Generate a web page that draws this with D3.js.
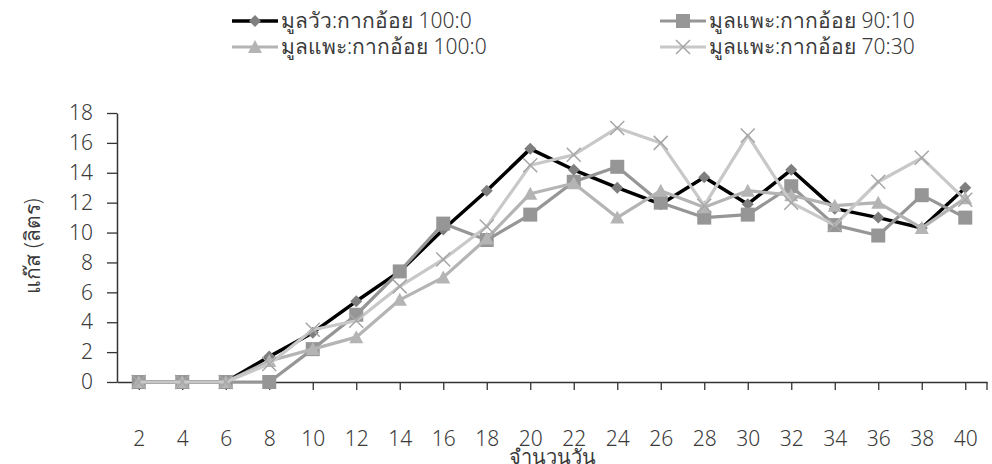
<!DOCTYPE html>
<html><head><meta charset="utf-8">
<script src="https://cdn.jsdelivr.net/npm/d3@7"></script>
<style>body{margin:0;background:#fff}svg{display:block}</style>
</head><body><svg id="c" width="992" height="464"></svg>
<script>
const days = [2,4,6,8,10,12,14,16,18,20,22,24,26,28,30,32,34,36,38,40];
const yTicks = [0,2,4,6,8,10,12,14,16,18];
const seriesNames = ["มูลวัว:กากอ้อย 100:0","มูลแพะ:กากอ้อย 90:10","มูลแพะ:กากอ้อย 100:0","มูลแพะ:กากอ้อย 70:30"];
const cow100 = [0,0,0,1.7,3.3,5.4,7.4,10.2,12.8,15.6,14.2,13.0,11.9,13.7,11.9,14.2,11.6,11.0,10.3,13.0];
const goat90 = [0,0,0,0,2.2,4.5,7.4,10.6,9.5,11.2,13.4,14.4,12.0,11.0,11.2,13.1,10.5,9.8,12.5,11.0];
const goat100 = [0,0,0,1.4,2.2,3.0,5.5,7.0,9.6,12.6,13.3,11.0,12.8,11.7,12.8,12.5,11.8,12.0,10.3,12.3];
const goat70 = [0,0,0,1.2,3.5,4.1,6.4,8.2,10.4,14.5,15.2,17.0,16.0,11.8,16.5,12.0,10.5,13.4,15.0,12.2];
const xTitle = "จำนวนวัน";
const yTitle = "แก๊ส (ลิตร)";

const styles = [
  {line:"#000000", fill:"#7f7f7f", shape:"diamond"},
  {line:"#969696", fill:"#969696", shape:"square"},
  {line:"#b4b4b4", fill:"#b4b4b4", shape:"triangle"},
  {line:"#c8c8c8", fill:"#a6a6a6", shape:"x"}
];
const allData = [cow100, goat90, goat100, goat70];

const svg = d3.select("#c");
const FONT = "'Noto Sans','Liberation Sans Narrow',sans-serif";
const TXT = "#3a3a3a";
const pL = 117, pR = 987, pT = 113, pB = 382;

const x = d3.scalePoint().domain(days).range([pL, pR]).padding(0.5);
const y = d3.scaleLinear().domain([0, 18]).range([pB, pT]);

const xAxis = svg.append("g").attr("transform", `translate(0,${pB})`)
  .call(d3.axisBottom(x).tickSize(8).tickSizeOuter(0).tickPadding(41));
xAxis.select(".domain").attr("stroke","#333").attr("stroke-width",1.5);
xAxis.selectAll(".tick line").attr("stroke","#333").attr("stroke-width",1.3);
xAxis.selectAll(".tick text").attr("font-family",FONT).attr("font-weight",300).attr("font-size",21).attr("fill",TXT);
svg.append("line").attr("x1",pR).attr("x2",pR).attr("y1",pB).attr("y2",pB+8)
  .attr("stroke","#333").attr("stroke-width",1.3);

const yAxis = svg.append("g").attr("transform", `translate(${pL},0)`)
  .call(d3.axisLeft(y).tickValues(yTicks).tickSize(10).tickSizeOuter(0).tickPadding(14));
yAxis.select(".domain").attr("stroke","#333").attr("stroke-width",1.5);
yAxis.selectAll(".tick line").attr("stroke","#333").attr("stroke-width",1.3);
yAxis.selectAll(".tick text").attr("font-family",FONT).attr("font-weight",300).attr("font-size",21).attr("fill",TXT);

svg.append("text").attr("x",(pL+pR)/2).attr("y",464).attr("text-anchor","middle")
  .attr("font-family",FONT).attr("font-weight",300).attr("font-size",20).attr("fill",TXT).text(xTitle);
svg.append("text").attr("transform",`translate(40,246) rotate(-90)`).attr("text-anchor","middle")
  .attr("font-family",FONT).attr("font-weight",300).attr("font-size",21).attr("fill",TXT).text(yTitle);

function marker(g, shape, cx, cy, st) {
  if (shape === "diamond") {
    g.append("path").attr("d",`M${cx},${cy-6}L${cx+6},${cy}L${cx},${cy+6}L${cx-6},${cy}Z`).attr("fill",st.fill);
  } else if (shape === "square") {
    g.append("rect").attr("x",cx-7).attr("y",cy-7).attr("width",14).attr("height",14).attr("fill",st.fill);
  } else if (shape === "triangle") {
    g.append("path").attr("d",`M${cx},${cy-7}L${cx+7},${cy+6}L${cx-7},${cy+6}Z`).attr("fill",st.fill);
  } else {
    g.append("path").attr("d",`M${cx-7},${cy-7}L${cx+7},${cy+7}M${cx+7},${cy-7}L${cx-7},${cy+7}`)
      .attr("stroke",st.fill).attr("stroke-width",1.5).attr("fill","none");
  }
}

const line = d3.line().x((d,i)=>x(days[i])).y(d=>y(d));
allData.forEach((data, si) => {
  const st = styles[si];
  const g = svg.append("g");
  g.append("path").datum(data).attr("d", line).attr("fill","none")
    .attr("stroke", st.line).attr("stroke-width", si===0?3.5:3.2).attr("stroke-linejoin","round");
  data.forEach((v,i) => marker(g, st.shape, x(days[i]), y(v), st));
});

const legPos = [[232,21],[660,21],[232,47],[660,47]];
seriesNames.forEach((name, si) => {
  const st = styles[si];
  const [lx, ly] = legPos[si];
  const g = svg.append("g");
  g.append("line").attr("x1",lx).attr("x2",lx+46).attr("y1",ly).attr("y2",ly)
    .attr("stroke",st.line).attr("stroke-width",si===0?3.5:3.2);
  marker(g, st.shape, lx+23, ly, st);
  g.append("text").attr("x",lx+49).attr("y",ly).attr("dy","0.35em")
    .attr("font-family",FONT).attr("font-weight",300).attr("font-size",21).attr("fill",TXT).text(name);
});
</script></body></html>
